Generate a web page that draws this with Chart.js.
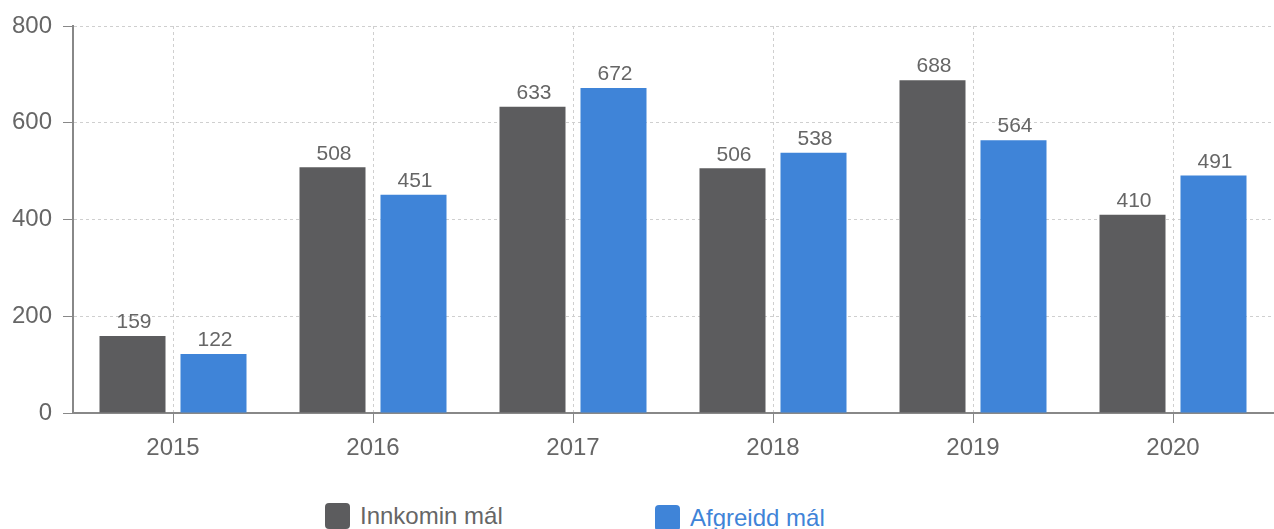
<!DOCTYPE html>
<html>
<head>
<meta charset="utf-8">
<script src="https://cdn.jsdelivr.net/npm/chart.js@4.4.0/dist/chart.umd.min.js"></script>
<style>
  body { margin: 0; background: #fff; font-family: "Liberation Sans", Arial, sans-serif; }
  #wrap { position: relative; width: 1274px; height: 529px; overflow: hidden; }
  #wrap canvas { position: absolute; left: 0; top: 0; }
  .leg { position: absolute; font-size: 24px; line-height: 26px; white-space: nowrap; }
  .leg span.box { display: inline-block; width: 25px; height: 26px; border-radius: 4px; vertical-align: top; margin-right: 10px; }
</style>
</head>
<body>
<div id="wrap">
  <canvas id="myChart" width="1274" height="470"></canvas>
  <div class="leg" id="leg1" style="left:325px; top:503px; color:#666;"><span class="box" style="background:#5c5c5e"></span>Innkomin mál</div>
  <div class="leg" id="leg2" style="left:655px; top:505px; color:#3f84d8;"><span class="box" style="background:#3f84d8"></span>Afgreidd mál</div>
</div>
<script>
//data
var years = ["2015", "2016", "2017", "2018", "2019", "2020"];
var innkomin = [159, 508, 633, 506, 688, 410];
var afgreidd = [122, 451, 672, 538, 564, 491];
var yTicks = [0, 200, 400, 600, 800];

var grey = "#5c5c5e";
var blue = "#3f84d8";

//labels over bars
var valueLabels = {
  id: "valueLabels",
  afterDatasetsDraw: function(chart) {
    var ctx = chart.ctx;
    ctx.save();
    ctx.font = "21px 'Liberation Sans', Arial, sans-serif";
    ctx.fillStyle = "#666";
    ctx.textAlign = "center";
    ctx.textBaseline = "bottom";
    chart.data.datasets.forEach(function(ds, i) {
      chart.getDatasetMeta(i).data.forEach(function(bar, j) {
        ctx.fillText(ds.data[j], bar.x + 1.5, bar.y - 3);
      });
    });
    ctx.restore();
  }
};

var config = {
  type: "bar",
  data: {
    labels: years,
    datasets: [
      { label: "Innkomin mál", data: innkomin, backgroundColor: grey, categoryPercentage: 0.81, barPercentage: 0.815 },
      { label: "Afgreidd mál", data: afgreidd, backgroundColor: blue, categoryPercentage: 0.81, barPercentage: 0.815 }
    ]
  },
  options: {
    responsive: false,
    animation: false,
    layout: { padding: { top: 26, right: 1, left: 0, bottom: 0 } },
    plugins: {
      legend: { display: false },
      tooltip: { enabled: false }
    },
    scales: {
      x: {
        grid: { offset: false, color: "#cfcfcf", tickColor: "#888", tickLength: 10, tickBorderDash: [] },
        border: { color: "#888", width: 2, dash: [3, 3] },
        ticks: { color: "#666", font: { size: 24, family: "'Liberation Sans', Arial, sans-serif" }, padding: 11 },
        afterFit: function(s) { s.height = 57; }
      },
      y: {
        min: 0,
        max: 800,
        afterBuildTicks: function(s) { s.ticks = yTicks.map(function(v) { return { value: v }; }); },
        grid: { color: "#cfcfcf", tickColor: "#888", tickLength: 10, tickBorderDash: [] },
        border: { color: "#888", width: 2, dash: [3, 3] },
        ticks: { color: "#666", font: { size: 24, family: "'Liberation Sans', Arial, sans-serif" }, padding: 11 },
        afterFit: function(s) { s.width = 73; }
      }
    }
  },
  plugins: [valueLabels]
};

new Chart(document.getElementById("myChart"), config);
</script>
</body>
</html>
